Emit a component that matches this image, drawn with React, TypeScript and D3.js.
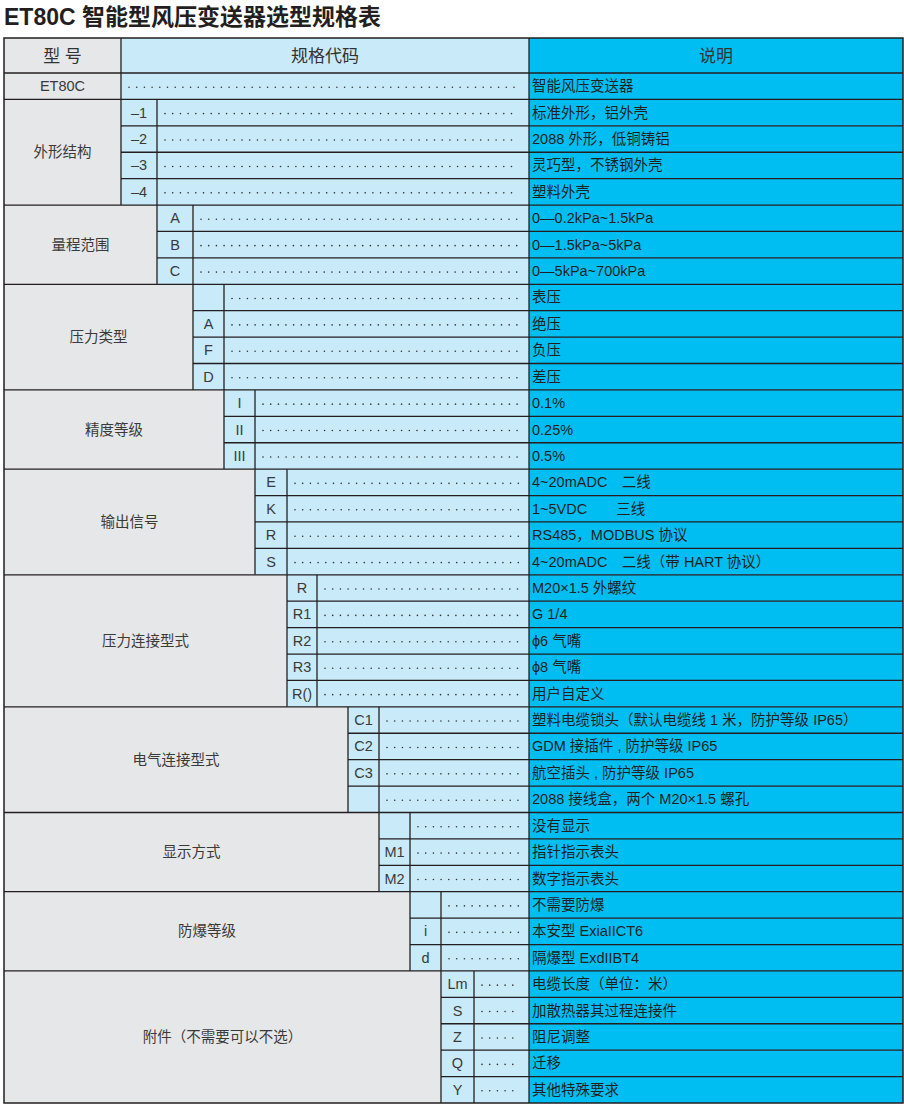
import React from "react";
import * as d3 from "d3";

const titleText = "ET80C 智能型风压变送器选型规格表";
const headerLabels = ["型 号", "规格代码", "说明"];

const groupLabels = [
  "ET80C",
  "外形结构",
  "量程范围",
  "压力类型",
  "精度等级",
  "输出信号",
  "压力连接型式",
  "电气连接型式",
  "显示方式",
  "防爆等级",
  "附件（不需要可以不选）",
];

// which code position each group occupies (-1 = none)
const groupPositions = [-1, 0, 1, 2, 3, 4, 5, 7, 8, 9, 10];

const groupCodes = [
  [""],
  ["–1", "–2", "–3", "–4"],
  ["A", "B", "C"],
  ["", "A", "F", "D"],
  ["I", "II", "III"],
  ["E", "K", "R", "S"],
  ["R", "R1", "R2", "R3", "R()"],
  ["C1", "C2", "C3", ""],
  ["", "M1", "M2"],
  ["", "i", "d"],
  ["Lm", "S", "Z", "Q", "Y"],
];

const groupDescriptions = [
  ["智能风压变送器"],
  ["标准外形，铝外壳", "2088 外形，低铜铸铝", "灵巧型，不锈钢外壳", "塑料外壳"],
  ["0—0.2kPa~1.5kPa", "0—1.5kPa~5kPa", "0—5kPa~700kPa"],
  ["表压", "绝压", "负压", "差压"],
  ["0.1%", "0.25%", "0.5%"],
  ["4~20mADC　二线", "1~5VDC　　三线", "RS485，MODBUS 协议", "4~20mADC　二线（带 HART 协议）"],
  ["M20×1.5 外螺纹", "G 1/4", "ϕ6 气嘴", "ϕ8 气嘴", "用户自定义"],
  ["塑料电缆锁头（默认电缆线 1 米，防护等级 IP65）", "GDM 接插件 , 防护等级 IP65", "航空插头 , 防护等级 IP65", "2088 接线盒，两个 M20×1.5 螺孔"],
  ["没有显示", "指针指示表头", "数字指示表头"],
  ["不需要防爆", "本安型 ExiaIICT6", "隔爆型 ExdIIBT4"],
  ["电缆长度（单位：米）", "加散热器其过程连接件", "阻尼调整", "迁移", "其他特殊要求"],
];

const W = 904;
const H = 1107;
const LEFT = 4;
const RIGHT = 903;
const DESC_X = 529;
const HEADER_TOP = 38;
const BODY_TOP = 73;
const BODY_BOTTOM = 1103;

const GRAY = "#e6e7e8";
const LIGHT = "#c8eaf9";
const CYAN = "#00bef2";
const LINE = "#231f20";
const FONT = "'Liberation Sans', Arial, 'Noto Sans CJK SC', sans-serif";

const colEdges = [121, 157, 193, 224, 255, 287, 317, 348, 379, 410, 441, 474];

export default function App() {
  const totalRows = d3.sum(groupCodes, (g) => g.length);
  const y = d3.scaleLinear().domain([0, totalRows]).range([BODY_TOP, BODY_BOTTOM]);
  const colX = d3.scaleLinear().domain(d3.range(colEdges.length)).range(colEdges);
  const rowH = y(1) - y(0);

  let rowStart = 0;
  const groups = groupLabels.map((label, gi) => {
    const n = groupCodes[gi].length;
    const g = { label, gi, start: rowStart, n };
    rowStart += n;
    return g;
  });

  const dots = (x0: number, x1: number, cy: number, key: string) => {
    const step = 7.7;
    const count = Math.floor((x1 - x0) / step) + 1;
    return d3.range(count).map((k) => (
      <circle key={key + "-" + k} cx={x0 + k * step} cy={cy} r={0.8} fill="#333" />
    ));
  };

  return (
    <svg width={W} height={H} style={{ position: "absolute", left: 0, top: 0, background: "#fff" }} fontFamily={FONT}>
      <text x={LEFT} y={25} fontSize={23} fontWeight="bold" fill="#231f20">{titleText}</text>

      {/* header */}
      <rect x={LEFT} y={HEADER_TOP} width={colX(0) - LEFT} height={BODY_TOP - HEADER_TOP} fill={GRAY} />
      <rect x={colX(0)} y={HEADER_TOP} width={DESC_X - colX(0)} height={BODY_TOP - HEADER_TOP} fill={LIGHT} />
      <rect x={DESC_X} y={HEADER_TOP} width={RIGHT - DESC_X} height={BODY_TOP - HEADER_TOP} fill={CYAN} />
      <text x={(LEFT + colX(0)) / 2} y={62} fontSize={17} textAnchor="middle" fill="#333">{headerLabels[0]}</text>
      <text x={(colX(0) + DESC_X) / 2} y={62} fontSize={17} textAnchor="middle" fill="#333">{headerLabels[1]}</text>
      <text x={(DESC_X + RIGHT) / 2} y={62} fontSize={17} textAnchor="middle" fill="#333">{headerLabels[2]}</text>
      <line x1={colX(0)} x2={colX(0)} y1={HEADER_TOP} y2={BODY_TOP} stroke={LINE} strokeWidth={1.3} />
      <line x1={DESC_X} x2={DESC_X} y1={HEADER_TOP} y2={BODY_TOP} stroke={LINE} strokeWidth={1.3} />

      {groups.map((g) => {
        const pos = groupPositions[g.gi];
        const codeX = pos < 0 ? colX(0) : colX(pos);
        const codeX2 = pos < 0 ? colX(0) : colX(pos + 1);
        const top = y(g.start);
        const bottom = y(g.start + g.n);
        return (
          <g key={"g" + g.gi}>
            <rect x={LEFT} y={top} width={codeX - LEFT} height={bottom - top} fill={GRAY} />
            {groupCodes[g.gi].map((code, ri) => {
              const ry = y(g.start + ri);
              const cy = ry + rowH / 2;
              return (
                <g key={"r" + ri}>
                  <rect x={codeX} y={ry} width={DESC_X - codeX} height={rowH} fill={LIGHT} />
                  <rect x={DESC_X} y={ry} width={RIGHT - DESC_X} height={rowH} fill={CYAN} />
                  {pos >= 0 && (
                    <text x={(codeX + codeX2) / 2} y={cy + 5} fontSize={14.5} textAnchor="middle" fill="#3a3a3a">{code}</text>
                  )}
                  {dots(codeX2 + 8, 519, cy + 1, "d" + g.gi + "-" + ri)}
                  <text x={532} y={cy + 5} fontSize={14.5} fill="#1f1f1f">{groupDescriptions[g.gi][ri]}</text>
                  {ri > 0 && (
                    <line x1={codeX} x2={RIGHT} y1={ry} y2={ry} stroke={LINE} strokeWidth={1.3} />
                  )}
                </g>
              );
            })}
            <text x={(LEFT + codeX) / 2} y={(top + bottom) / 2 + 5} fontSize={14.5} textAnchor="middle" fill="#3a3a3a">{g.label}</text>
            <line x1={LEFT} x2={RIGHT} y1={top} y2={top} stroke={LINE} strokeWidth={1.3} />
            {pos >= 0 && (
              <line x1={codeX} x2={codeX} y1={top} y2={bottom} stroke={LINE} strokeWidth={1.3} />
            )}
            <line x1={codeX2} x2={codeX2} y1={top} y2={bottom} stroke={LINE} strokeWidth={1.3} />
            <line x1={DESC_X} x2={DESC_X} y1={top} y2={bottom} stroke={LINE} strokeWidth={1.3} />
          </g>
        );
      })}

      <rect x={LEFT} y={HEADER_TOP} width={RIGHT - LEFT} height={BODY_BOTTOM - HEADER_TOP} fill="none" stroke={LINE} strokeWidth={1.5} />
    </svg>
  );
}
